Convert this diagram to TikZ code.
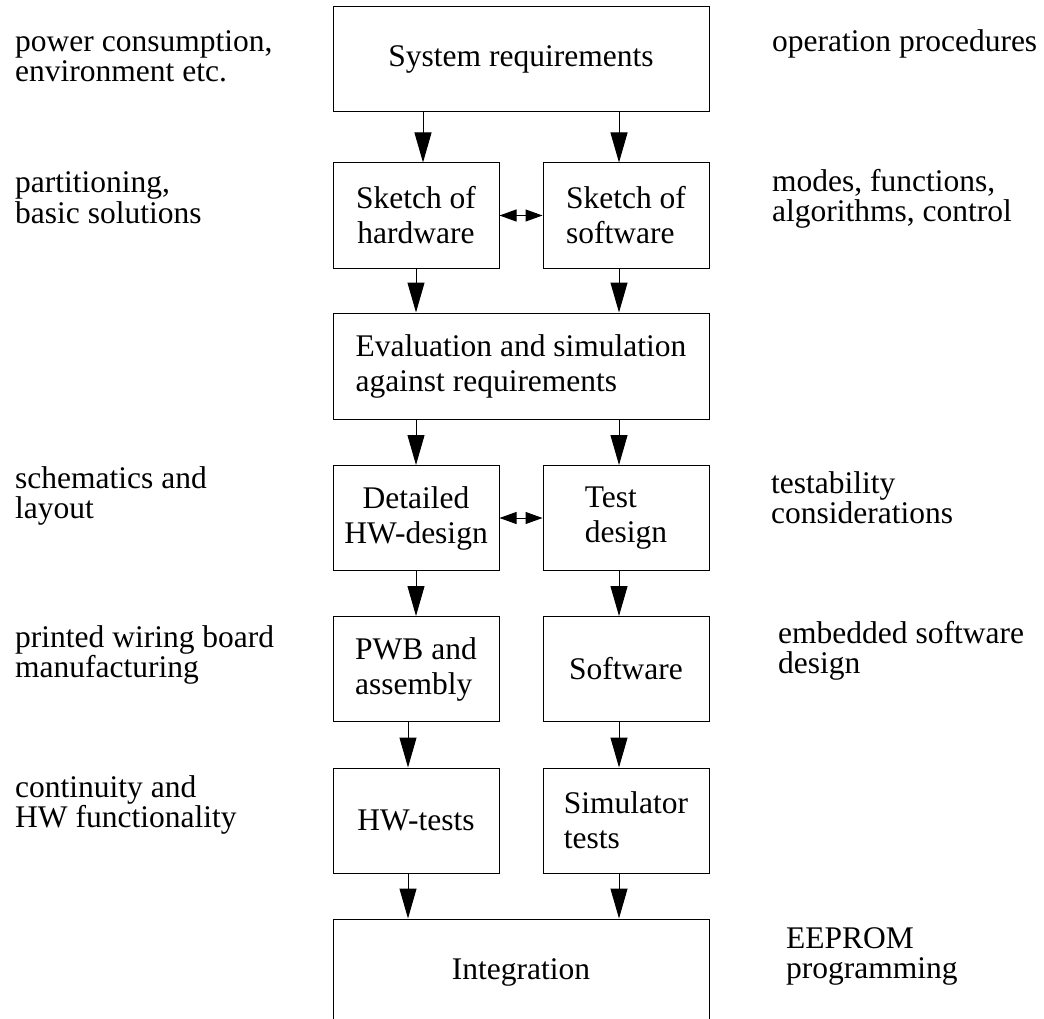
\documentclass[tikz,border=0pt]{standalone}
\usepackage{fontspec}
\setmainfont{Liberation Serif}
\usetikzlibrary{arrows.meta}

\newcommand{\boxfont}{\fontsize{31.5}{35}\selectfont}
\newcommand{\notefont}{\fontsize{31.5}{30}\selectfont}

\tikzset{
  box/.style={draw, line width=1pt, inner sep=0pt, minimum height=105pt, font=\boxfont},
  narrowbox/.style={box, minimum width=166pt},
  widebox/.style={box, minimum width=376pt},
  flow/.style={-{Triangle[length=30pt,width=17pt]}, line width=1pt},
  link/.style={{Triangle[length=17pt,width=12pt]}-{Triangle[length=17pt,width=12pt]}, line width=1pt},
  note/.style={anchor=base west, align=left, inner sep=0pt, font=\notefont},
}

\begin{document}
\begin{tikzpicture}[x=1pt,y=-1pt]

\useasboundingbox (0,0) rectangle (1044,1019) ;

% boxes
\node[widebox] (sysreq) at (521,59.5) {System requirements} ;

\node[narrowbox, align=center] (skhw) at (416,215.5) {Sketch of\\hardware} ;
\node[narrowbox, align=left] (sksw) at (626,215.5) {Sketch of\\software} ;

\node[widebox, minimum height=106pt, align=left] (eval) at (521,366) {Evaluation and simulation\\against requirements} ;

\node[narrowbox, align=center] (dethw) at (416,518) {Detailed\\HW-design} ;
\node[narrowbox, align=left] (testd) at (626,518) {Test\\design} ;

\node[narrowbox, align=left] (pwb) at (416,669) {PWB and\\assembly} ;
\node[narrowbox] (sw) at (626,669) {Software} ;

\node[narrowbox] (hwt) at (416,820.5) {HW-tests} ;
\node[narrowbox, align=left] (simt) at (626,820.5) {Simulator\\tests} ;

\node[widebox, minimum height=106pt] (integ) at (521,972) {Integration} ;

% arrows
\draw[flow] ([xshift=7pt]sysreq.south -| skhw.north) -- ([xshift=7pt]skhw.north) ;
\draw[flow] ([xshift=-7pt]sysreq.south -| sksw.north) -- ([xshift=-7pt]sksw.north) ;

\draw[link] (skhw.east) -- (sksw.west) ;

\draw[flow] (skhw.south) -- (skhw.south |- eval.north) ;
\draw[flow] ([xshift=-7pt]sksw.south) -- ([xshift=-7pt]sksw.south |- eval.north) ;

\draw[flow] (eval.south -| dethw.north) -- (dethw.north) ;
\draw[flow] ([xshift=-7pt]eval.south -| testd.north) -- ([xshift=-7pt]testd.north) ;

\draw[link] (dethw.east) -- (testd.west) ;

\draw[flow] (dethw.south) -- (pwb.north) ;
\draw[flow] ([xshift=-7pt]testd.south) -- ([xshift=-7pt]sw.north) ;

\draw[flow] ([xshift=-8pt]pwb.south) -- ([xshift=-8pt]hwt.north) ;
\draw[flow] ([xshift=-7pt]sw.south) -- ([xshift=-7pt]simt.north) ;

\draw[flow] ([xshift=-8pt]hwt.south) -- ([xshift=-8pt]hwt.south |- integ.north) ;
\draw[flow] ([xshift=-7pt]simt.south) -- ([xshift=-7pt]simt.south |- integ.north) ;

% notes on the left
\node[note] (nleft1) at (15,82) {power consumption,\\environment etc.} ;
\node[note] (nleft2) at (15,223) {partitioning,\\basic solutions} ;
\node[note] (nleft3) at (15,518) {schematics and\\layout} ;
\node[note] (nleft4) at (15,677) {printed wiring board\\manufacturing} ;
\node[note] (nleft5) at (15,827) {continuity and\\HW functionality} ;

% notes on the right
\node[note] (nright1) at (772,52) {operation procedures} ;
\node[note] (nright2) at (772,222) {modes, functions,\\algorithms, control} ;
\node[note] (nright3) at (771,523) {testability\\considerations} ;
\node[note] (nright4) at (778,673) {embedded software\\design} ;
\node[note] (nright5) at (786,978) {EEPROM\\programming} ;

\end{tikzpicture}
\end{document}
